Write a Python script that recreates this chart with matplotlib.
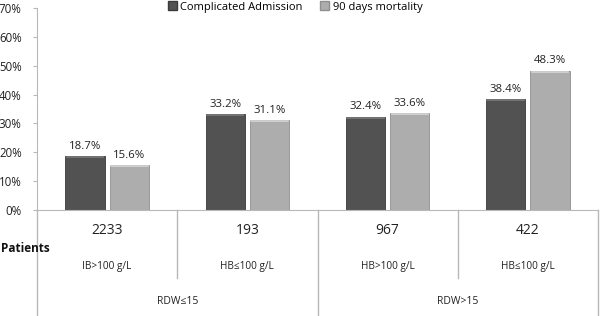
import matplotlib.pyplot as plt
from matplotlib.patches import Patch
import matplotlib.transforms as mtransforms

# data
groups = ["IB>100 g/L", "HB\u2264100 g/L", "HB>100 g/L", "HB\u2264100 g/L"]
patients = ["2233", "193", "967", "422"]
rdw_labels = ["RDW\u226415", "RDW>15"]
complicated = [18.7, 33.2, 32.4, 38.4]
mortality = [15.6, 31.1, 33.6, 48.3]
series_names = ["Complicated Admission", "90 days mortality"]

DARK = "#525252"
LIGHT = "#adadad"
LINE = "#b8b8b8"

plt.rcParams['font.family'] = ['Open Sans', 'DejaVu Sans']

fig = plt.figure(figsize=(6, 3.16), dpi=100)
ax = fig.add_axes([37 / 600, 1 - 210 / 316, 561 / 600, 202 / 316])

x = list(range(len(groups)))
w = 0.28
off = 0.158
b1 = ax.bar([i - off for i in x], complicated, w, color=DARK, edgecolor="#3a3a3a", linewidth=0.6)
b2 = ax.bar([i + off for i in x], mortality, w, color=LIGHT, edgecolor="#8f8f8f", linewidth=0.6)

# light bevel on top of the bars
for bars, col in ((b1, "#7a7a7a"), (b2, "#d6d6d6")):
    for r in bars:
        ax.plot([r.get_x() + 0.01, r.get_x() + r.get_width() - 0.01],
                [r.get_height() - 0.35] * 2, color=col, lw=1.2)

for bars, vals in ((b1, complicated), (b2, mortality)):
    for r, v in zip(bars, vals):
        ax.text(r.get_x() + r.get_width() / 2, v + 1.5, f"{v:.1f}%",
                ha="center", va="bottom", fontsize=8.2, color="#222222")

ax.set_xlim(-0.5, 3.5)
ax.set_ylim(0, 70)
ax.set_yticks(range(0, 71, 10))
ax.set_yticklabels([f"{t}%" for t in range(0, 71, 10)], fontsize=8.3, color="#222222")
ax.tick_params(axis="y", length=3, color=LINE, pad=8)
ax.set_xticks([])
for s in ("top", "right"):
    ax.spines[s].set_visible(False)
ax.spines["left"].set_color(LINE)
ax.spines["bottom"].set_color(LINE)

# category table under the axis
tr = mtransforms.blended_transform_factory(ax.transData, ax.transAxes)
px = 1 / 202.0  # one pixel in axes units
bottom = -106 * px
mid = -68 * px
ax.plot([-0.5, -0.5], [0, bottom], color=LINE, lw=1, transform=tr, clip_on=False)
for xd, yb in ((0.5, mid), (1.5, bottom), (2.5, mid), (3.5, bottom)):
    ax.plot([xd, xd], [0, yb], color=LINE, lw=1, transform=tr, clip_on=False)

for i in x:
    ax.text(i, -20 * px, patients[i], ha="center", va="center", fontsize=10,
            color="#222222", transform=tr, clip_on=False)
    ax.text(i, -56 * px, groups[i], ha="center", va="center", fontsize=7.2,
            color="#222222", transform=tr, clip_on=False)
for j, lab in enumerate(rdw_labels):
    ax.text(0.5 + 2 * j, -92 * px, lab, ha="center", va="center", fontsize=7.5,
            color="#222222", transform=tr, clip_on=False)

fig.text(0.002, 1 - 248 / 316, "Patients", ha="left", va="center",
         fontsize=8.5, fontweight="bold", color="#111111")

handles = [Patch(facecolor=DARK, edgecolor="#3a3a3a"), Patch(facecolor=LIGHT, edgecolor="#8f8f8f")]
fig.legend(handles, series_names, loc="center", bbox_to_anchor=(0.492, 1 - 7 / 316),
           ncol=2, frameon=False, fontsize=8, handlelength=0.8, handleheight=0.8,
           handletextpad=0.3, columnspacing=1.6, borderaxespad=0)

fig.savefig("out.png", dpi=100)
